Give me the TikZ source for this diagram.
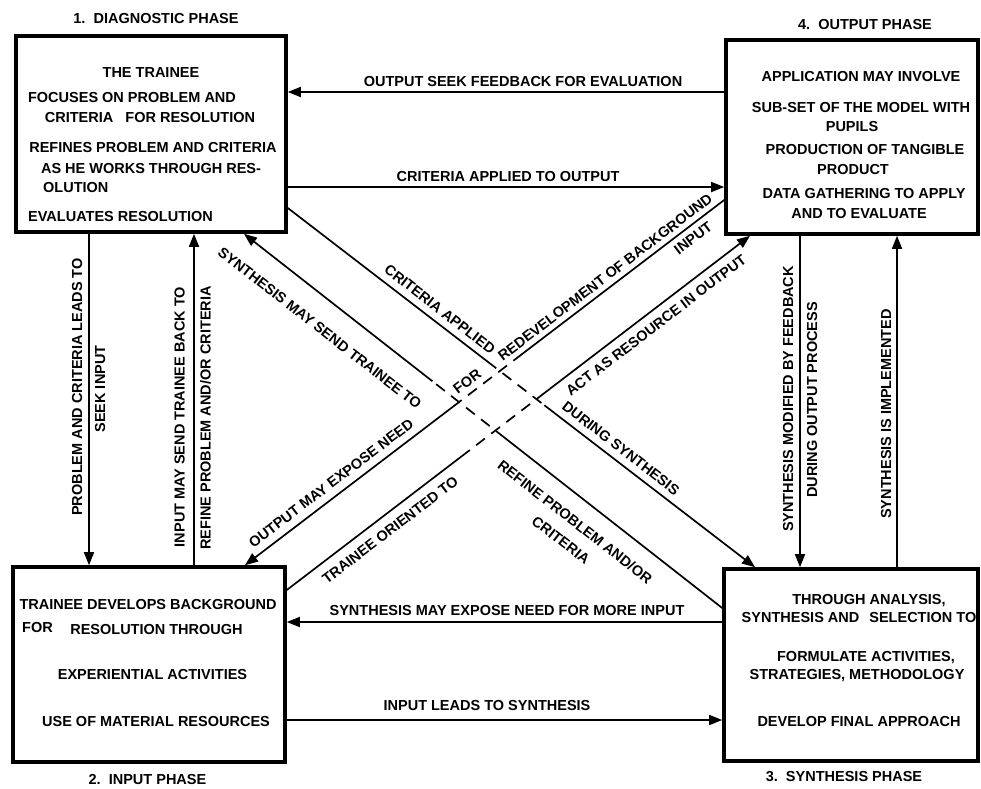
\documentclass[tikz,border=0pt]{standalone}
\usepackage{fontspec}
\setmainfont{Liberation Sans}
\usetikzlibrary{arrows.meta,calc}
\begin{document}
\begin{tikzpicture}[x=1pt,y=-1pt,
  box/.style={draw, line width=3.6pt, rectangle, inner sep=0pt},
  conn/.style={line width=1.7pt},
  arr/.style={conn, -{Triangle[length=13pt,width=10pt]}},
  gap/.style={conn, dash pattern=on 11pt off 8pt, dash phase=11pt},
  txt/.style={font=\fontsize{14.5}{23}\selectfont\bfseries, inner sep=0pt},
  lbl/.style={txt, text height=10.4pt, text depth=0pt},
]
\useasboundingbox (0,0) rectangle (981,788);

% ---------- the four phase boxes ----------
\node[box, minimum width=270pt, minimum height=196pt] (diag) at (151,134) {};
\node[box, minimum width=252pt, minimum height=194pt] (outp) at (852,137) {};
\node[box, minimum width=272pt, minimum height=195pt] (inp)  at (149,664.5) {};
\node[box, minimum width=254pt, minimum height=192pt] (syn)  at (851,665) {};

% ---------- phase titles ----------
\node[lbl] (t1) at (156,18.5) {1.\ \ DIAGNOSTIC PHASE};
\node[lbl] (t4) at (865,24) {4.\ \ OUTPUT PHASE};
\node[lbl] (t2) at (147.5,779) {2.\ \ INPUT PHASE};
\node[lbl] (t3) at (844,776) {3.\ \ SYNTHESIS PHASE};

% ---------- box contents ----------
\node[lbl] at (151,72) {THE TRAINEE};
\node[lbl] at (132,97.5) {FOCUSES ON PROBLEM AND};
\node[lbl] at (150,117.5) {CRITERIA\hspace{8pt} FOR RESOLUTION};
\node[lbl] at (153,147.5) {REFINES PROBLEM AND CRITERIA};
\node[lbl] at (151,168) {AS HE WORKS THROUGH RES-};
\node[lbl, anchor=west] at (43,187.5) {OLUTION};
\node[lbl, anchor=west] at (28,216.5) {EVALUATES RESOLUTION};

\node[lbl] at (861,76) {APPLICATION MAY INVOLVE};
\node[lbl] at (861,107.5) {SUB-SET OF THE MODEL WITH};
\node[lbl] at (852,126) {PUPILS};
\node[lbl] at (865,149) {PRODUCTION OF TANGIBLE};
\node[lbl] at (853,169) {PRODUCT};
\node[lbl] at (864,193) {DATA GATHERING TO APPLY};
\node[lbl] at (859,213.5) {AND TO EVALUATE};

\node[lbl] at (148,604) {TRAINEE DEVELOPS BACKGROUND};
\node[lbl] at (37.5,627.5) {FOR};
\node[lbl] at (156.5,629) {RESOLUTION THROUGH};
\node[lbl] at (152.5,674) {EXPERIENTIAL ACTIVITIES};
\node[lbl] at (156,721) {USE OF MATERIAL RESOURCES};

\node[lbl] at (869,599) {THROUGH ANALYSIS,};
\node[lbl] at (859,617.5) {SYNTHESIS AND\hspace{6pt} SELECTION TO};
\node[lbl] at (866,656) {FORMULATE ACTIVITIES,};
\node[lbl] at (857,674) {STRATEGIES, METHODOLOGY};
\node[lbl] at (859,721.5) {DEVELOP FINAL APPROACH};

% ---------- horizontal connectors ----------
\draw[arr] (outp.west |- 0,92) -- (diag.east |- 0,92);
\node[lbl] at (523,81) {OUTPUT SEEK FEEDBACK FOR EVALUATION};
\draw[arr] (diag.east |- 0,187) -- (outp.west |- 0,187);
\node[lbl] at (508,176.5) {CRITERIA APPLIED TO OUTPUT};
\draw[arr] (syn.west |- 0,622) -- (inp.east |- 0,622);
\node[lbl] at (507,610) {SYNTHESIS MAY EXPOSE NEED FOR MORE INPUT};
\draw[arr] (inp.east |- 0,720) -- (syn.west |- 0,720);
\node[lbl] at (487,705) {INPUT LEADS TO SYNTHESIS};

% ---------- vertical connectors ----------
\draw[arr] (diag.south -| 89,0) -- (inp.north -| 89,0);
\node[lbl, rotate=90] at (77,387) {PROBLEM AND CRITERIA LEADS TO};
\node[lbl, rotate=90] at (100,389) {SEEK INPUT};
\draw[arr] (inp.north -| 194,0) -- (diag.south -| 194,0);
\node[lbl, rotate=90] at (179.5,417) {INPUT MAY SEND TRAINEE BACK TO};
\node[lbl, rotate=90] at (205.5,418) {REFINE PROBLEM AND/OR CRITERIA};

\draw[arr] (outp.south -| 800,0) -- (syn.north -| 800,0);
\node[lbl, rotate=90] at (788,399) {SYNTHESIS MODIFIED BY FEEDBACK};
\node[lbl, rotate=90] at (812,400) {DURING OUTPUT PROCESS};
\draw[arr] (syn.north -| 897,0) -- (outp.south -| 897,0);
\node[lbl, rotate=90] at (886,414) {SYNTHESIS IS IMPLEMENTED};

% ---------- crossing diagonals (dashed where they cross) ----------
\coordinate (la1) at (diag.east |- 0,208);
\coordinate (la2) at (syn.north -| 755,0);
\coordinate (lb1) at (syn.west |- 0,608);
\coordinate (lb2) at (diag.south -| 244,0);
\coordinate (lc1) at (outp.west |- 0,200);
\coordinate (lc2) at (inp.north -| 245,0);
\coordinate (ld1) at (inp.east |- 0,590);
\coordinate (ld2) at (outp.south -| 750,0);

% diagnostic -> synthesis
\draw[conn] (la1) -- ($(la1)!0.446!(la2)$);
\draw[gap]  ($(la1)!0.446!(la2)$) -- ($(la1)!0.549!(la2)$);
\draw[arr]  ($(la1)!0.549!(la2)$) -- (la2);
% synthesis -> diagnostic
\draw[conn] (lb1) -- ($(lb1)!0.473!(lb2)$);
\draw[gap]  ($(lb1)!0.473!(lb2)$) -- ($(lb1)!0.606!(lb2)$);
\draw[arr]  ($(lb1)!0.606!(lb2)$) -- (lb2);
% output -> input
\draw[conn] (lc1) -- ($(lc1)!0.44!(lc2)$);
\draw[gap]  ($(lc1)!0.44!(lc2)$) -- ($(lc1)!0.566!(lc2)$);
\draw[arr]  ($(lc1)!0.566!(lc2)$) -- (lc2);
% input -> output
\draw[conn] (ld1) -- ($(ld1)!0.395!(ld2)$);
\draw[gap]  ($(ld1)!0.395!(ld2)$) -- ($(ld1)!0.546!(ld2)$);
\draw[arr]  ($(ld1)!0.546!(ld2)$) -- (ld2);

% diagonal labels
\node[lbl, rotate=-37.8] at (440,309) {CRITERIA APPLIED};
\node[lbl, rotate=-37.8] at (621,448) {DURING SYNTHESIS};
\node[lbl, rotate=-37.9] at (320,328) {SYNTHESIS MAY SEND TRAINEE TO};
\node[txt, rotate=-37.9, align=center] at (568,531) {REFINE PROBLEM AND/OR\\CRITERIA};
\node[lbl, rotate=37.3] at (331,483) {OUTPUT MAY EXPOSE NEED};
\node[lbl, rotate=37.3] at (467,381) {FOR};
\node[lbl, rotate=37.3] at (605,277) {REDEVELOPMENT OF BACKGROUND};
\node[lbl, rotate=37.3] at (693,238) {INPUT};
\node[lbl, rotate=37.4] at (390,530) {TRAINEE ORIENTED TO};
\node[lbl, rotate=37.4] at (656,325) {ACT AS RESOURCE IN OUTPUT};
\end{tikzpicture}
\end{document}
